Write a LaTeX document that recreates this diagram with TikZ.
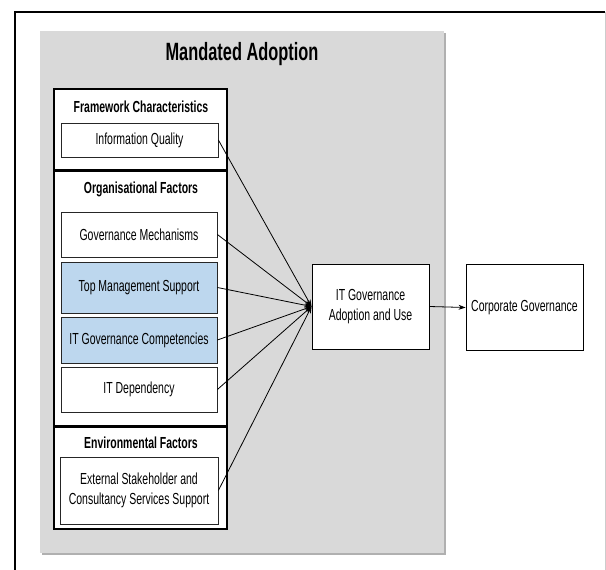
\documentclass[tikz,border=0pt]{standalone}
\usepackage{fontspec}
\setmainfont{Liberation Sans}[FakeStretch=0.655]
\usetikzlibrary{arrows.meta}
\definecolor{panelgray}{HTML}{D9D9D9}
\definecolor{shadowgray}{HTML}{B0B0B0}
\definecolor{factorblue}{HTML}{BDD7EE}
\tikzset{
  group/.style={draw=black, line width=1.7pt, fill=white, inner sep=0pt},
  grouptitle/.style={font=\bfseries\fontsize{16}{19}\selectfont, inner sep=0pt},
  factor/.style={draw=black!85, line width=0.8pt, fill=white, inner sep=0pt,
    align=center, font=\fontsize{16}{20.5}\selectfont},
  hilite/.style={factor, fill=factorblue},
  outcome/.style={draw=black, line width=0.9pt, fill=white, inner sep=0pt,
    align=center, font=\fontsize{16}{20}\selectfont},
  link/.style={line width=0.8pt, -{Stealth[length=7pt,width=5pt]}},
}
\begin{document}
\begin{tikzpicture}[x=1pt, y=-1pt]
  \useasboundingbox (0,0) rectangle (606,570);
  \fill[white] (0,0) rectangle (606,570);

  % outer frame (runs past the lower edge)
  \draw[black, line width=2pt] (15,575) -- (15,12) -- (605,12);
  \draw[black!20, line width=1pt] (605,12) -- (605,575);

  % grey panel with drop shadow
  \fill[shadowgray] (42,33) rectangle (445.5,554.5);
  \fill[panelgray] (40,31) rectangle (444,553);
  \node[font=\bfseries\fontsize{25}{30}\selectfont, inner sep=0pt] (title) at (242,54) {Mandated Adoption};

  % factor groups
  \node[group, minimum width=173pt, minimum height=81pt] (gframe) at (140.5,129.5) {};
  \node[group, minimum width=173pt, minimum height=255pt] (gorg) at (140.5,298.5) {};
  \node[group, minimum width=173pt, minimum height=102pt] (genv) at (140.5,478) {};

  \node[grouptitle] (tframe) at (141,107) {Framework Characteristics};
  \node[grouptitle] (torg) at (141,189) {Organisational Factors};
  \node[grouptitle] (tenv) at (141,443) {Environmental Factors};

  % individual factors
  \node[factor, minimum width=157pt, minimum height=34pt] (iq) at (139.5,140) {Information Quality};
  \node[factor, minimum width=156pt, minimum height=45pt] (gm) at (139,234.5) {Governance Mechanisms};
  \node[hilite, minimum width=156pt, minimum height=51pt] (tms) at (139,287.5) {Top Management Support};
  \node[hilite, minimum width=156pt, minimum height=46pt] (itgc) at (139,340) {IT Governance Competencies};
  \node[factor, minimum width=156pt, minimum height=45pt] (itd) at (139,389.5) {IT Dependency};
  \node[factor, minimum width=158pt, minimum height=67pt] (esc) at (139,490.5) {External Stakeholder and\\Consultancy Services Support};

  % outcomes
  \node[outcome, minimum width=117pt, minimum height=85pt] (adopt) at (370.5,306.5) {IT Governance\\Adoption and Use};
  \node[outcome, minimum width=117pt, minimum height=86pt] (corp) at (524.5,307.5) {Corporate Governance};

  % links
  \foreach \src in {iq,gm,tms,itgc,itd,esc}
    \draw[link] (\src.east) -- (adopt.west);
  \draw[link] (adopt.east) -- (corp.west);
\end{tikzpicture}
\end{document}
